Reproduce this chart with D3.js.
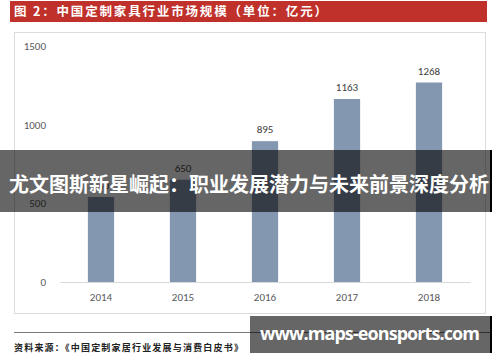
<!DOCTYPE html>
<html>
<head>
<meta charset="utf-8">
<script src="https://cdn.jsdelivr.net/npm/d3@7"></script>
<style>
body { margin: 0; background: #fff; }
svg { display: block; }
</style>
</head>
<body>
<svg id="chart" width="500" height="362"></svg>
<script>

// data
var years = [ "2014", "2015", "2016", "2017", "2018" ];
var marketSize = [ 540, 650, 895, 1163, 1268 ];
var yTicks = [ 0, 500, 1000, 1500 ];

var titleText = "图 2：中国定制家具行业市场规模（单位：亿元）";
var sourceText = "资料来源：《中国定制家居行业发展与消费白皮书》";
var bannerText = "尤文图斯新星崛起：职业发展潜力与未来前景深度分析";
var siteText = "www.maps-eonsports.com";

var cjk = "'Noto Sans CJK SC', 'Noto Sans', sans-serif";
var latin = "Calibri, 'Liberation Sans', 'Open Sans', sans-serif";

var svg = d3.select("#chart");

// title bar
svg.append("rect") //
.attr("x", 10).attr("y", 1).attr("width", 477).attr("height", 21) //
.attr("fill", "#c0312c");

svg.append("text") //
.attr("x", 14).attr("y", 16) //
.attr("fill", "#fff") //
.attr("font-family", cjk) //
.attr("font-weight", "bold") //
.attr("font-size", 12.5) //
.attr("textLength", 313) //
.text(titleText);

// chart frame
svg.append("rect") //
.attr("x", 14.5).attr("y", 32.5).attr("width", 471).attr("height", 281) //
.attr("fill", "#fff") //
.attr("stroke", "#dcdcdc");

var x = d3.scaleBand().domain(years).range([ 60, 470 ]).paddingInner(0.68).paddingOuter(0.34);
var y = d3.scaleLinear().domain([ 0, 1500 ]).range([ 282, 46 ]);

// y axis labels, no axis line
var yAxis = svg.append("g").attr("transform", "translate(50,0)") //
.call(d3.axisLeft(y).tickValues(yTicks).tickFormat(d3.format("d")).tickSize(0).tickPadding(4));
yAxis.select(".domain").remove();
yAxis.selectAll("text") //
.attr("fill", "#595959") //
.attr("font-family", latin) //
.attr("font-size", 11);

// bars
svg.append("g").selectAll("rect").data(marketSize).enter().append("rect") //
.attr("x", function(d, i) {
	return x(years[i]);
}) //
.attr("y", function(d) {
	return y(d);
}) //
.attr("width", x.bandwidth()) //
.attr("height", function(d) {
	return y(0) - y(d);
}) //
.attr("fill", "#8497b0");

// value labels
svg.append("g").selectAll("text").data(marketSize).enter().append("text") //
.attr("x", function(d, i) {
	return x(years[i]) + x.bandwidth() / 2;
}) //
.attr("y", function(d) {
	return y(d) - 8;
}) //
.attr("text-anchor", "middle") //
.attr("fill", "#404040") //
.attr("font-family", latin) //
.attr("font-size", 11) //
.text(function(d) {
	return d;
});

// x axis
var xAxis = svg.append("g").attr("transform", "translate(0,282)") //
.call(d3.axisBottom(x).tickSize(0).tickPadding(11));
xAxis.select(".domain").attr("stroke", "#d9d9d9");
xAxis.selectAll("text") //
.attr("fill", "#595959") //
.attr("font-family", latin) //
.attr("font-size", 11);

// footer rule and source
svg.append("line") //
.attr("x1", 14).attr("x2", 490).attr("y1", 332.5).attr("y2", 332.5) //
.attr("stroke", "#777").attr("stroke-width", 1);

svg.append("text") //
.attr("x", 14).attr("y", 351) //
.attr("fill", "#222") //
.attr("font-family", cjk) //
.attr("font-weight", "bold") //
.attr("font-size", 9) //
.attr("textLength", 229) //
.text(sourceText);

// overlay banner
svg.append("rect") //
.attr("x", 0).attr("y", 150).attr("width", 490).attr("height", 62) //
.attr("fill", "#000").attr("fill-opacity", 0.6);
svg.append("rect") //
.attr("x", 490).attr("y", 150).attr("width", 2).attr("height", 62) //
.attr("fill", "#000");

svg.append("text") //
.attr("x", 249).attr("y", 192) //
.attr("text-anchor", "middle") //
.attr("fill", "#fff") //
.attr("font-family", cjk) //
.attr("font-weight", "bold") //
.attr("font-size", 20) //
.attr("textLength", 480) //
.text(bannerText);

// site watermark
svg.append("rect") //
.attr("x", 250).attr("y", 316).attr("width", 240).attr("height", 37) //
.attr("fill", "#000").attr("fill-opacity", 0.6);
svg.append("rect") //
.attr("x", 490).attr("y", 316).attr("width", 2).attr("height", 37) //
.attr("fill", "#000");

svg.append("text") //
.attr("x", 260).attr("y", 340) //
.attr("fill", "#fff") //
.attr("font-family", "'Open Sans', 'DejaVu Sans', sans-serif") //
.attr("font-weight", "bold") //
.attr("font-size", 18) //
.attr("textLength", 220) //
.text(siteText);

</script>
</body>
</html>
